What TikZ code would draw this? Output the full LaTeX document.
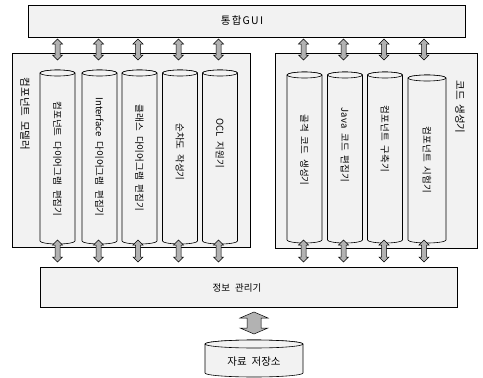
\documentclass[tikz,border=0pt]{standalone}
\usepackage{fontspec}
\newfontfamily\kr{Noto Sans CJK KR}
\newfontfamily\krsp[LetterSpace=12]{Noto Sans CJK KR}
\definecolor{speck}{gray}{0.95}
\newcommand\wgap{\hspace{5pt}}
\tikzset{
  panel/.style={draw=black, line width=0.7pt, fill=speck},
  cylbody/.style={draw=black, line width=0.6pt, fill=speck},
  cyltext/.style={rotate=-90, font=\kr\fontsize{9.5}{10}\selectfont, inner sep=0pt},
  vlabel/.style={rotate=-90, font=\kr\fontsize{10.5}{11}\selectfont, inner sep=0pt},
  arrshape/.style={draw=black, line width=0.5pt, fill=gray!60},
  lbl/.style={font=\kr\fontsize{9.5}{11}\selectfont, inner sep=0pt}
}
% #1 x, #2 y top, #3 y bottom, #4 half width, #5 ellipse radius
\newcommand\mycyl[5]{%
  \draw[cylbody] ({#1-#4},#2) -- ({#1-#4},#3)
    arc[start angle=180, end angle=360, x radius=#4pt, y radius=#5pt]
    -- ({#1+#4},#2)
    arc[start angle=0, end angle=180, x radius=#4pt, y radius=#5pt] -- cycle;
  \draw[cylbody] (#1,#2) ellipse[x radius=#4pt, y radius=#5pt];
}
% #1 x, #2 y1, #3 y2, #4 shaft half, #5 head half, #6 head length
\newcommand\myarr[6]{%
  \draw[arrshape] (#1,#2) -- ({#1+#5},{#2+#6}) -- ({#1+#4},{#2+#6}) -- ({#1+#4},{#3-#6})
    -- ({#1+#5},{#3-#6}) -- (#1,#3) -- ({#1-#5},{#3-#6}) -- ({#1-#4},{#3-#6})
    -- ({#1-#4},{#2+#6}) -- ({#1-#5},{#2+#6}) -- cycle;
}
\begin{document}
\begin{tikzpicture}[x=1pt, y=-1pt]
\useasboundingbox (0,0) rectangle (483,378);
% top bar
\node[panel, minimum width=437pt, minimum height=32pt, inner sep=0pt] (gui) at (246.5,21) {};
\node[font=\krsp\fontsize{10.5}{12}\selectfont, inner sep=0pt] (guit) at (242,21) {통합GUI};
% panels
\node[panel, minimum width=238pt, minimum height=194pt, inner sep=0pt] (left) at (131,150) {};
\node[panel, minimum width=202pt, minimum height=195pt, inner sep=0pt] (right) at (376,150.5) {};
\node[vlabel] (ll) at (25,114) {컴포넌트\wgap 모델러};
\node[vlabel] (rl) at (460,107) {코드\wgap 생성기};
% left cylinders
\mycyl{57.5}{73}{241}{17.5}{3}
\mycyl{99.5}{73}{241}{17.5}{3}
\mycyl{139.5}{73}{241}{17.5}{3}
\mycyl{180}{73}{241}{17.5}{3}
\mycyl{220}{73}{241}{17.5}{3}
\node[cyltext] (c1) at (57.5,159) {컴포넌트\wgap 다이어그램\wgap 편집기};
\node[cyltext] (c2) at (99.5,157) {Interface\wgap 다이어그램\wgap 편집기};
\node[cyltext] (c3) at (139.5,158) {클래스\wgap 다이어그램\wgap 편집기};
\node[cyltext] (c4) at (180,152) {순차도\wgap 작성기};
\node[cyltext] (c5) at (220,143) {OCL\wgap 지원기};
% right cylinders
\mycyl{304.5}{75}{240}{17.5}{3}
\mycyl{345}{75}{240}{17.5}{3}
\mycyl{385}{75}{240}{17.5}{3}
\mycyl{427}{78}{240}{19}{3}
\node[cyltext] (d1) at (304.5,150) {골격\wgap 코드\wgap 생성기};
\node[cyltext] (d2) at (345,145) {Java\wgap 코드\wgap 편집기};
\node[cyltext] (d3) at (385,139) {컴포넌트\wgap 구축기};
\node[cyltext] (d4) at (427,160) {컴포넌트\wgap 시험기};
% info manager
\node[panel, minimum width=417pt, minimum height=40pt, inner sep=0pt] (info) at (248.5,287) {};
\node[lbl] (infot) at (237,288) {정보\wgap 관리기};
% small arrows
\foreach \x in {57.5,98.5,138,178.5,218.5,303.5,343.5,384,424}{
  \myarr{\x}{39}{60}{2.5}{5}{5}
  \myarr{\x}{240}{262}{2.5}{5}{5}
}
% big arrow
\myarr{254}{312}{334}{7}{14}{6}
% database
\mycyl{254}{344}{373}{49}{4}
\node[lbl, font=\kr\fontsize{10.5}{12}\selectfont] (dbt) at (254,362) {자료\wgap 저장소};
\end{tikzpicture}
\end{document}
